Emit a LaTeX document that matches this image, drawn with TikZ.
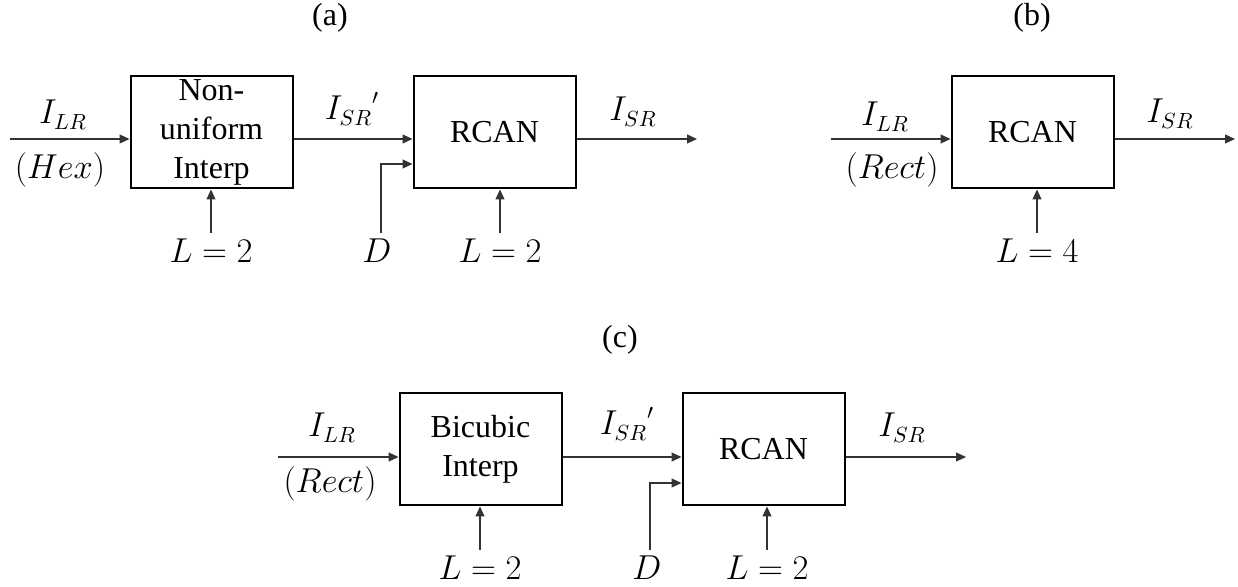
\documentclass[tikz,border=0pt]{standalone}
\usepackage{fontspec}
\setmainfont{Liberation Serif}
\usetikzlibrary{arrows.meta}
\begin{document}
\begin{tikzpicture}[x=0.5pt,y=-0.5pt,
  blk/.style={draw, line width=1pt, minimum width=81pt, minimum height=56pt, inner sep=0pt, align=center, font=\fontsize{16}{19.5}\selectfont},
  sig/.style={draw=black!80, line width=0.6pt, -{Triangle[length=5pt,width=4.5pt]}},
  lbl/.style={inner sep=0pt, anchor=base, font=\fontsize{16}{19.5}\selectfont},
]
\useasboundingbox (0,0) rectangle (1238,587);

% ---------- (a) ----------
\node[lbl] (ta) at (330,26) {(a)};
\node[blk] (a1) at (211.5,132.5) {Non-\\uniform\\Interp};
\node[blk] (a2) at (494.5,132.5) {RCAN};
\coordinate (ain) at (10,139);
\coordinate (aout) at (697,139);
\coordinate (aL1) at (211,233);
\coordinate (aL2) at (500,233);
\coordinate (aD) at (381,233);
\coordinate (aDj) at (381,164);
\draw[sig] (ain) -- (ain -| a1.west);
\draw[sig] (a1.east |- ain) -- (a2.west |- ain);
\draw[sig] (a2.east |- aout) -- (aout);
\draw[sig] (aL1) -- (aL1 |- a1.south);
\draw[sig] (aL2) -- (aL2 |- a2.south);
\draw[sig] (aD) -- (aDj) -- (aDj -| a2.west);
\node[lbl] (aI) at (63,124) {$I_{LR}$};
\node[lbl] (aH) at (60,179) {$(Hex)$};
\node[lbl] (aS1) at (352,120) {${I_{SR}}'$};
\node[lbl] (aS2) at (633,121) {$I_{SR}$};
\node[lbl] (aLa) at (211,263) {$L=2$};
\node[lbl] (aDl) at (377,263) {$D$};
\node[lbl] (aLb) at (500,263) {$L=2$};

% ---------- (b) ----------
\node[lbl] (tb) at (1032,26) {(b)};
\node[blk] (b1) at (1032.5,132.5) {RCAN};
\coordinate (bin) at (831,139);
\coordinate (bout) at (1235,139);
\coordinate (bL) at (1037,233);
\draw[sig] (bin) -- (bin -| b1.west);
\draw[sig] (b1.east |- bout) -- (bout);
\draw[sig] (bL) -- (bL |- b1.south);
\node[lbl] (bI) at (885,126) {$I_{LR}$};
\node[lbl] (bR) at (892,179) {$(Rect)$};
\node[lbl] (bS) at (1170,123) {$I_{SR}$};
\node[lbl] (bLa) at (1037,263) {$L=4$};

% ---------- (c) ----------
\node[lbl] (tc) at (620,348) {(c)};
\node[blk] (c1) at (480.5,449.5) {Bicubic\\Interp};
\node[blk] (c2) at (763.5,449.5) {RCAN};
\coordinate (cin) at (278,457);
\coordinate (cout) at (966,457);
\coordinate (cL1) at (480,550);
\coordinate (cL2) at (767,550);
\coordinate (cD) at (650,550);
\coordinate (cDj) at (650,483);
\draw[sig] (cin) -- (cin -| c1.west);
\draw[sig] (c1.east |- cin) -- (c2.west |- cin);
\draw[sig] (c2.east |- cout) -- (cout);
\draw[sig] (cL1) -- (cL1 |- c1.south);
\draw[sig] (cL2) -- (cL2 |- c2.south);
\draw[sig] (cD) -- (cDj) -- (cDj -| c2.west);
\node[lbl] (cI) at (332,437) {$I_{LR}$};
\node[lbl] (cR) at (330,493) {$(Rect)$};
\node[lbl] (cS1) at (627,435) {${I_{SR}}'$};
\node[lbl] (cS2) at (902,437) {$I_{SR}$};
\node[lbl] (cLa) at (480,580) {$L=2$};
\node[lbl] (cDl) at (647,580) {$D$};
\node[lbl] (cLb) at (767,580) {$L=2$};
\end{tikzpicture}
\end{document}
